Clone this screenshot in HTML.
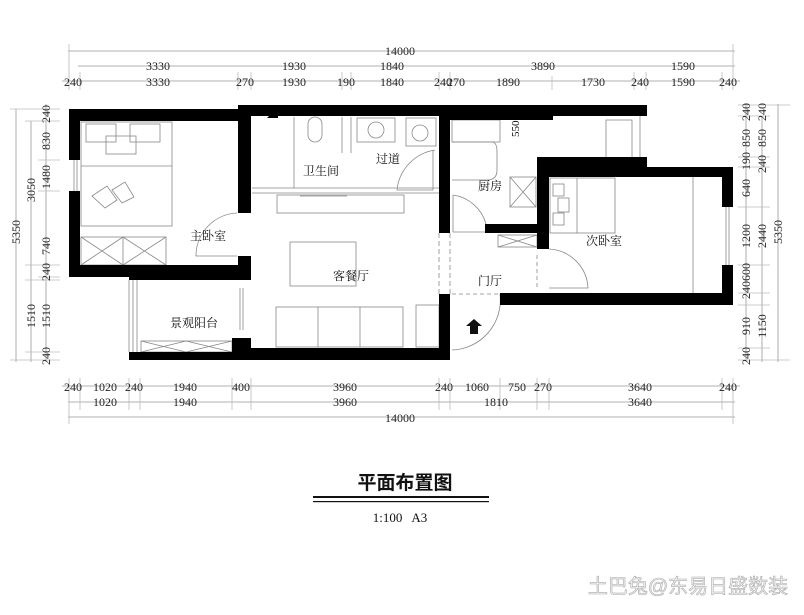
<!DOCTYPE html>
<html><head><meta charset="utf-8"><style>
html,body{margin:0;padding:0;background:#fff;}
svg{display:block;}
.d{font-family:"Liberation Serif","Noto Serif CJK SC",serif;font-size:12px;fill:#222;}
.c{font-family:"Liberation Serif","Noto Serif CJK SC",serif;font-size:12px;fill:#111;}
</style></head><body>
<svg width="804" height="615" viewBox="0 0 804 615" xmlns="http://www.w3.org/2000/svg">
<rect width="804" height="615" fill="#fff"/>
<g stroke="#999" stroke-width="0.8" fill="none">
<line x1="68" y1="51" x2="735" y2="51"/>
<line x1="78" y1="66" x2="735" y2="66"/>
<line x1="62" y1="81" x2="740" y2="81"/>
<line x1="62" y1="386" x2="740" y2="386"/>
<line x1="68" y1="402" x2="735" y2="402"/>
<line x1="68" y1="417" x2="735" y2="417"/>
<line x1="16" y1="109" x2="16" y2="362"/>
<line x1="31" y1="121" x2="31" y2="362"/>
<line x1="46" y1="104" x2="46" y2="362"/>
<line x1="746" y1="104" x2="746" y2="362"/>
<line x1="762" y1="116" x2="762" y2="362"/>
<line x1="778" y1="104" x2="778" y2="362"/>
<g stroke="#bbb">
<line x1="69" y1="44" x2="69" y2="90"/><line x1="80" y1="72" x2="80" y2="90"/><line x1="238" y1="72" x2="238" y2="90"/><line x1="251" y1="72" x2="251" y2="90"/><line x1="342" y1="72" x2="342" y2="90"/><line x1="351" y1="72" x2="351" y2="90"/><line x1="439" y1="72" x2="439" y2="90"/><line x1="450" y1="72" x2="450" y2="90"/><line x1="552" y1="76" x2="552" y2="90"/><line x1="634" y1="72" x2="634" y2="90"/><line x1="646" y1="72" x2="646" y2="90"/><line x1="722" y1="72" x2="722" y2="90"/><line x1="733" y1="44" x2="733" y2="90"/>
<line x1="69" y1="378" x2="69" y2="424"/><line x1="80" y1="378" x2="80" y2="410"/><line x1="129" y1="378" x2="129" y2="410"/><line x1="140" y1="378" x2="140" y2="410"/><line x1="232" y1="378" x2="232" y2="410"/><line x1="251" y1="378" x2="251" y2="410"/><line x1="439" y1="378" x2="439" y2="410"/><line x1="450" y1="378" x2="450" y2="410"/><line x1="500" y1="378" x2="500" y2="410"/><line x1="537" y1="378" x2="537" y2="410"/><line x1="549" y1="378" x2="549" y2="410"/><line x1="722" y1="378" x2="722" y2="410"/><line x1="733" y1="378" x2="733" y2="424"/>
<line x1="10" y1="109" x2="60" y2="109"/><line x1="25" y1="121" x2="60" y2="121"/><line x1="38" y1="160" x2="60" y2="160"/><line x1="38" y1="191" x2="60" y2="191"/><line x1="25" y1="265" x2="60" y2="265"/><line x1="38" y1="277" x2="60" y2="277"/><line x1="25" y1="280" x2="60" y2="280"/><line x1="25" y1="352" x2="60" y2="352"/><line x1="10" y1="360" x2="60" y2="360"/>
<line x1="738" y1="105" x2="790" y2="105"/><line x1="738" y1="116" x2="770" y2="116"/><line x1="738" y1="157" x2="770" y2="157"/><line x1="738" y1="167" x2="770" y2="167"/><line x1="738" y1="207" x2="770" y2="207"/><line x1="738" y1="265" x2="770" y2="265"/><line x1="738" y1="293" x2="770" y2="293"/><line x1="738" y1="305" x2="770" y2="305"/><line x1="738" y1="348" x2="770" y2="348"/><line x1="738" y1="360" x2="790" y2="360"/>
</g></g>
<g class="d" text-anchor="middle">
<text x="400" y="55">14000</text>
<text x="158" y="70">3330</text><text x="294" y="70">1930</text><text x="392" y="70">1840</text><text x="543" y="70">3890</text><text x="683" y="70">1590</text>
<text x="73" y="86">240</text><text x="158" y="86">3330</text><text x="245" y="86">270</text><text x="294" y="86">1930</text><text x="346" y="86">190</text><text x="392" y="86">1840</text><text x="443" y="86">240</text><text x="456" y="86">270</text><text x="508" y="86">1890</text><text x="593" y="86">1730</text><text x="640" y="86">240</text><text x="683" y="86">1590</text><text x="728" y="86">240</text>
<text x="73" y="391">240</text><text x="105" y="391">1020</text><text x="134" y="391">240</text><text x="185" y="391">1940</text><text x="241" y="391">400</text><text x="345" y="391">3960</text><text x="444" y="391">240</text><text x="477" y="391">1060</text><text x="517" y="391">750</text><text x="543" y="391">270</text><text x="640" y="391">3640</text><text x="728" y="391">240</text>
<text x="105" y="406">1020</text><text x="185" y="406">1940</text><text x="345" y="406">3960</text><text x="496" y="406">1810</text><text x="640" y="406">3640</text>
<text x="400" y="422">14000</text>
</g>
<g class="d" text-anchor="middle">
<text transform="translate(20,232) rotate(-90)">5350</text>
<text transform="translate(35,190) rotate(-90)">3050</text>
<text transform="translate(35,316) rotate(-90)">1510</text>
<text transform="translate(50,114) rotate(-90)">240</text>
<text transform="translate(50,141) rotate(-90)">830</text>
<text transform="translate(50,177) rotate(-90)">1480</text>
<text transform="translate(50,246) rotate(-90)">740</text>
<text transform="translate(50,272) rotate(-90)">240</text>
<text transform="translate(50,316) rotate(-90)">1510</text>
<text transform="translate(50,356) rotate(-90)">240</text>
<text transform="translate(750,112) rotate(-90)">240</text>
<text transform="translate(750,138) rotate(-90)">850</text>
<text transform="translate(750,161) rotate(-90)">190</text>
<text transform="translate(750,188) rotate(-90)">640</text>
<text transform="translate(750,236) rotate(-90)">1200</text>
<text transform="translate(750,281) rotate(-90)">240600</text>
<text transform="translate(750,326) rotate(-90)">910</text>
<text transform="translate(750,356) rotate(-90)">240</text>
<text transform="translate(766,112) rotate(-90)">240</text>
<text transform="translate(766,138) rotate(-90)">850</text>
<text transform="translate(766,164) rotate(-90)">240</text>
<text transform="translate(766,236) rotate(-90)">2440</text>
<text transform="translate(766,326) rotate(-90)">1150</text>
<text transform="translate(782,232) rotate(-90)">5350</text>
</g>
<g stroke="#888" stroke-width="0.8" fill="none">
<rect x="81" y="122" width="91" height="104"/><line x1="81" y1="166" x2="172" y2="166"/>
<rect x="86" y="124" width="30" height="18"/><rect x="130" y="124" width="30" height="18"/><rect x="106" y="136" width="30" height="18"/>
<path d="M92 196 l15 -10 l10 14 l-12 8 z M112 190 l13 -8 l9 15 l-12 6 z"/>
<rect x="81" y="237" width="85" height="28"/><path d="M81 237 l42 28 M123 237 l-42 28 M123 237 l43 28 M166 237 l-43 28 M123 237 v28"/>
<path d="M237 213 A43 43 0 0 0 196 256 H237"/>
<line x1="74" y1="160" x2="74" y2="191"/><line x1="77" y1="160" x2="77" y2="191"/>
<line x1="129" y1="280" x2="129" y2="352"/><line x1="133" y1="280" x2="133" y2="352"/><line x1="137" y1="280" x2="137" y2="352"/>
<rect x="141" y="341" width="91" height="11"/><path d="M141 341 l45 11 M186 341 l-45 11 M186 341 l46 11 M232 341 l-46 11"/>
<line x1="240" y1="288" x2="240" y2="330"/><line x1="243" y1="288" x2="243" y2="330"/>
<line x1="252" y1="193" x2="439" y2="193"/><line x1="252" y1="188" x2="439" y2="188"/>
<rect x="277" y="195" width="127" height="18"/><line x1="300" y1="196" x2="347" y2="196"/>
<rect x="290" y="242" width="66" height="44"/>
<rect x="276" y="307" width="127" height="40"/><line x1="318" y1="307" x2="318" y2="347"/><line x1="360" y1="307" x2="360" y2="347"/>
<line x1="294" y1="117" x2="294" y2="188"/><line x1="342" y1="117" x2="342" y2="153"/><line x1="351" y1="117" x2="351" y2="153"/>
<rect x="357" y="118" width="38" height="24"/><circle cx="376" cy="130" r="8"/>
<rect x="406" y="118" width="30" height="28"/><circle cx="420" cy="133" r="8"/>
<rect x="308" y="117" width="14" height="25" rx="7"/>
<path d="M435 150 A45 45 0 0 0 397 190 H433 V150"/>
<rect x="452" y="120" width="48" height="22"/><path d="M452 142 h40 q5 0 5 10 v18 q0 10 -10 10 h-35"/>
<rect x="606" y="120" width="26" height="40"/><line x1="640" y1="116" x2="640" y2="157"/>
<rect x="510" y="177" width="26" height="30"/><path d="M510 177 l26 30 M536 177 l-26 30"/>
<path d="M453 195 A40 40 0 0 1 486 224 M453 195 V232 H485"/>
<rect x="498" y="235" width="39" height="12"/><path d="M498 235 l39 12 M537 235 l-39 12"/>
<rect x="550" y="178" width="65" height="55"/><line x1="577" y1="178" x2="577" y2="233"/>
<rect x="553" y="184" width="11" height="12"/><rect x="558" y="198" width="11" height="14"/><rect x="553" y="213" width="11" height="12"/>
<line x1="693" y1="177" x2="693" y2="293"/><line x1="726" y1="207" x2="726" y2="265"/><line x1="729" y1="207" x2="729" y2="265"/>
<path d="M549 249 A41 41 0 0 1 588 288 H549"/>
<line x1="537" y1="255" x2="537" y2="290" stroke-dasharray="4 3"/>
<line x1="439" y1="233" x2="439" y2="294" stroke-dasharray="5 3"/><line x1="450" y1="233" x2="450" y2="294" stroke-dasharray="5 3"/>
<line x1="452" y1="294" x2="500" y2="294" stroke-dasharray="4 3"/>
<path d="M500 294 A50 50 0 0 1 452 350"/>
<rect x="416" y="305" width="23" height="42"/>
</g>
<path d="M466 326 l8 -7 l8 7 h-4 v8 h-8 v-8z" fill="#111"/>
<g fill="#000">
<rect x="69" y="109" width="182" height="12"/>
<rect x="69" y="109" width="11" height="51"/>
<rect x="69" y="191" width="11" height="86"/>
<rect x="69" y="265" width="182" height="12"/>
<rect x="129" y="265" width="122" height="15"/>
<rect x="238" y="105" width="13" height="108"/>
<rect x="238" y="256" width="13" height="24"/>
<rect x="238" y="105" width="212" height="11"/>
<rect x="450" y="105" width="103" height="15"/>
<rect x="552" y="105" width="95" height="11"/>
<rect x="439" y="105" width="11" height="128"/>
<rect x="439" y="294" width="11" height="66"/>
<rect x="129" y="352" width="122" height="8"/>
<rect x="232" y="338" width="19" height="22"/>
<rect x="251" y="348" width="199" height="12"/>
<rect x="537" y="157" width="110" height="20"/>
<rect x="647" y="167" width="86" height="10"/>
<rect x="722" y="167" width="11" height="40"/>
<rect x="722" y="265" width="11" height="40"/>
<rect x="500" y="293" width="233" height="12"/>
<rect x="537" y="157" width="12" height="92"/>
<rect x="485" y="224" width="64" height="9"/>
<path d="M267 118 h11 v-11 z"/>
</g>
<g class="c">
<text x="190" y="240">主卧室</text>
<text x="170" y="327">景观阳台</text>
<text x="303" y="175">卫生间</text>
<text x="376" y="163">过道</text>
<text x="333" y="280">客餐厅</text>
<text x="478" y="190">厨房</text>
<text x="586" y="245">次卧室</text>
<text x="478" y="285">门厅</text>
<text transform="translate(519,137) rotate(-90)" style="font-size:11px">550</text>
</g>
<text x="405" y="489" text-anchor="middle" style="font-family:'Liberation Sans','Noto Sans CJK SC',sans-serif;font-size:19px;font-weight:bold;fill:#111">平面布置图</text>
<rect x="313" y="496" width="176" height="2" fill="#111"/>
<rect x="313" y="501" width="176" height="1.2" fill="#111"/>
<text x="400" y="522" text-anchor="middle" style="font-family:'Liberation Serif',serif;font-size:13px;fill:#111" xml:space="preserve">1:100   A3</text>
<text x="688" y="593" text-anchor="middle" style="font-family:'Liberation Sans','Noto Sans CJK SC',sans-serif;font-size:20px;fill:#f4f4f4;stroke:#aaa;stroke-width:0.6">土巴兔@东易日盛数装</text>
</svg>
</body></html>
